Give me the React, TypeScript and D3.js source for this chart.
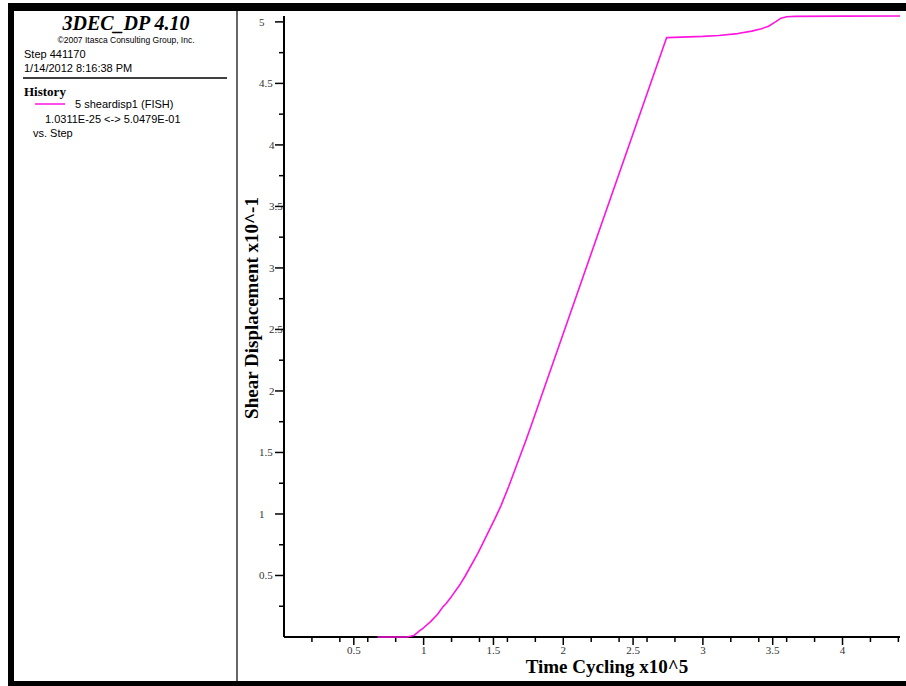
import React from "react";
import * as d3 from "d3";

// History: shear displacement (x10^-1) vs. step (x10^5)
const stepValues = [
  0.67, 0.88, 0.93, 0.97, 1.0, 1.05, 1.1, 1.138, 1.16, 1.2, 1.257, 1.3, 1.388,
  1.43, 1.471, 1.51, 1.555, 1.61, 1.674, 1.733, 1.78, 1.834, 2.74, 2.9, 3.0,
  3.114, 3.25, 3.35, 3.42, 3.47, 3.52, 3.56, 3.6, 3.66, 4.0, 4.4117,
];
const shearValues = [
  0, 0, 0.012, 0.05, 0.075, 0.125, 0.185, 0.245, 0.27, 0.33, 0.42, 0.5, 0.68,
  0.775, 0.87, 0.96, 1.07, 1.225, 1.42, 1.6, 1.75, 1.927, 4.872, 4.878, 4.882,
  4.89, 4.905, 4.925, 4.945, 4.965, 5.0, 5.03, 5.042, 5.045, 5.047, 5.0479,
];

const xMajorTicks = [0.5, 1, 1.5, 2, 2.5, 3, 3.5, 4];
const xMinorTicks = [
  0.2, 0.4, 0.6, 0.8, 1.2, 1.4, 1.6, 1.8, 2.2, 2.4, 2.6, 2.8, 3.2, 3.4, 3.6,
  3.8, 4.2, 4.4,
];
const yMajorTicks = [0.5, 1, 1.5, 2, 2.5, 3, 3.5, 4, 4.5, 5];
const yMinorTicks = [0.25, 0.75, 1.25, 1.75, 2.25, 2.75, 3.25, 3.75, 4.25, 4.75];

const xMax = 4.4117;
const yMax = 5.0479;

const titleText = "3DEC_DP 4.10";
const copyrightText = "\u00A92007 Itasca Consulting Group, Inc.";
const stepText = "Step 441170";
const dateText = "1/14/2012 8:16:38 PM";
const historyText = "History";
const seriesName = "5 sheardisp1 (FISH)";
const rangeText = "1.0311E-25 <-> 5.0479E-01";
const vsText = "vs. Step";
const xTitle = "Time Cycling x10^5";
const yTitle = "Shear Displacement x10^-1";

const SERIF = "'Liberation Serif', 'Times New Roman', serif";
const SANS = "'Liberation Sans', Arial, sans-serif";
const LINE = "#ff14e0";

export default function App() {
  const W = 906;
  const H = 686;
  const x = d3.scaleLinear().domain([0, xMax]).range([284, 900]);
  const y = d3.scaleLinear().domain([0, yMax]).range([637, 16]);

  const data = stepValues.map((s, i) => [s, shearValues[i]] as [number, number]);
  const line = d3
    .line<[number, number]>()
    .x((d) => x(d[0]))
    .y((d) => y(d[1]))
    .curve(d3.curveLinear);

  // y labels that fall alongside the rotated title sit further right
  const yTitleSpan: [number, number] = [140, 430];

  return (
    <svg
      width={W}
      height={H}
      style={{ position: "absolute", left: 0, top: 0, background: "#fff" }}
    >
      {/* outer frame */}
      <rect x={8} y={3} width={920} height={690} fill="#000" />
      <rect x={14} y={11} width={920} height={670} fill="#fff" />
      {/* panel divider */}
      <line x1={237} y1={11} x2={237} y2={681} stroke="#333" strokeWidth={1.5} />

      {/* info panel */}
      <text
        x={126}
        y={30}
        textAnchor="middle"
        fontFamily={SERIF}
        fontWeight="bold"
        fontStyle="italic"
        fontSize={20}
      >
        {titleText}
      </text>
      <text x={126} y={43} textAnchor="middle" fontFamily={SANS} fontSize={8.5}>
        {copyrightText}
      </text>
      <text x={24} y={58} fontFamily={SANS} fontSize={11}>
        {stepText}
      </text>
      <text x={24} y={72} fontFamily={SANS} fontSize={11}>
        {dateText}
      </text>
      <line x1={23} y1={78} x2={227} y2={78} stroke="#000" strokeWidth={1.5} />
      <text x={24} y={96} fontFamily={SERIF} fontWeight="bold" fontSize={13}>
        {historyText}
      </text>
      <line x1={35} y1={104} x2={65} y2={104} stroke={LINE} strokeWidth={1.5} />
      <text x={75} y={108} fontFamily={SANS} fontSize={11}>
        {seriesName}
      </text>
      <text x={45} y={123} fontFamily={SANS} fontSize={11}>
        {rangeText}
      </text>
      <text x={33} y={137} fontFamily={SANS} fontSize={11}>
        {vsText}
      </text>

      {/* axes */}
      <line x1={x(0)} y1={y(0)} x2={x(xMax)} y2={y(0)} stroke="#000" strokeWidth={2} />
      <line x1={x(0)} y1={y(0)} x2={x(0)} y2={y(yMax)} stroke="#000" strokeWidth={2} />

      {xMinorTicks.map((t) => (
        <line key={"xm" + t} x1={x(t)} x2={x(t)} y1={y(0)} y2={y(0) + 5} stroke="#000" strokeWidth={1.5} />
      ))}
      {xMajorTicks.map((t) => (
        <g key={"xM" + t}>
          <line x1={x(t)} x2={x(t)} y1={y(0)} y2={y(0) + 8} stroke="#000" strokeWidth={1.5} />
          <text
            x={x(t)}
            y={y(0) + 17}
            textAnchor="middle"
            fontFamily={SERIF}
            fontSize={11}
            fill="#333"
          >
            {String(t)}
          </text>
        </g>
      ))}

      {yMinorTicks.map((t) => (
        <line key={"ym" + t} x1={x(0) - 5} x2={x(0)} y1={y(t)} y2={y(t)} stroke="#000" strokeWidth={1.5} />
      ))}
      {yMajorTicks.map((t) => {
        const ty = y(t);
        const shifted = ty > yTitleSpan[0] && ty < yTitleSpan[1];
        return (
          <g key={"yM" + t}>
            <line x1={x(0) - 9} x2={x(0)} y1={ty} y2={ty} stroke="#000" strokeWidth={1.5} />
            <text
              x={shifted ? 269 : 259}
              y={ty + 4}
              fontFamily={SERIF}
              fontSize={11}
              fill="#333"
            >
              {String(t)}
            </text>
          </g>
        );
      })}

      {/* axis titles */}
      <text
        x={607}
        y={673}
        textAnchor="middle"
        fontFamily={SERIF}
        fontWeight="bold"
        fontSize={19}
      >
        {xTitle}
      </text>
      <text
        transform="translate(258,308) rotate(-90)"
        textAnchor="middle"
        fontFamily={SERIF}
        fontWeight="bold"
        fontSize={19}
      >
        {yTitle}
      </text>

      {/* history curve */}
      <path d={line(data) ?? ""} fill="none" stroke={LINE} strokeWidth={1.6} strokeLinejoin="round" />
    </svg>
  );
}
